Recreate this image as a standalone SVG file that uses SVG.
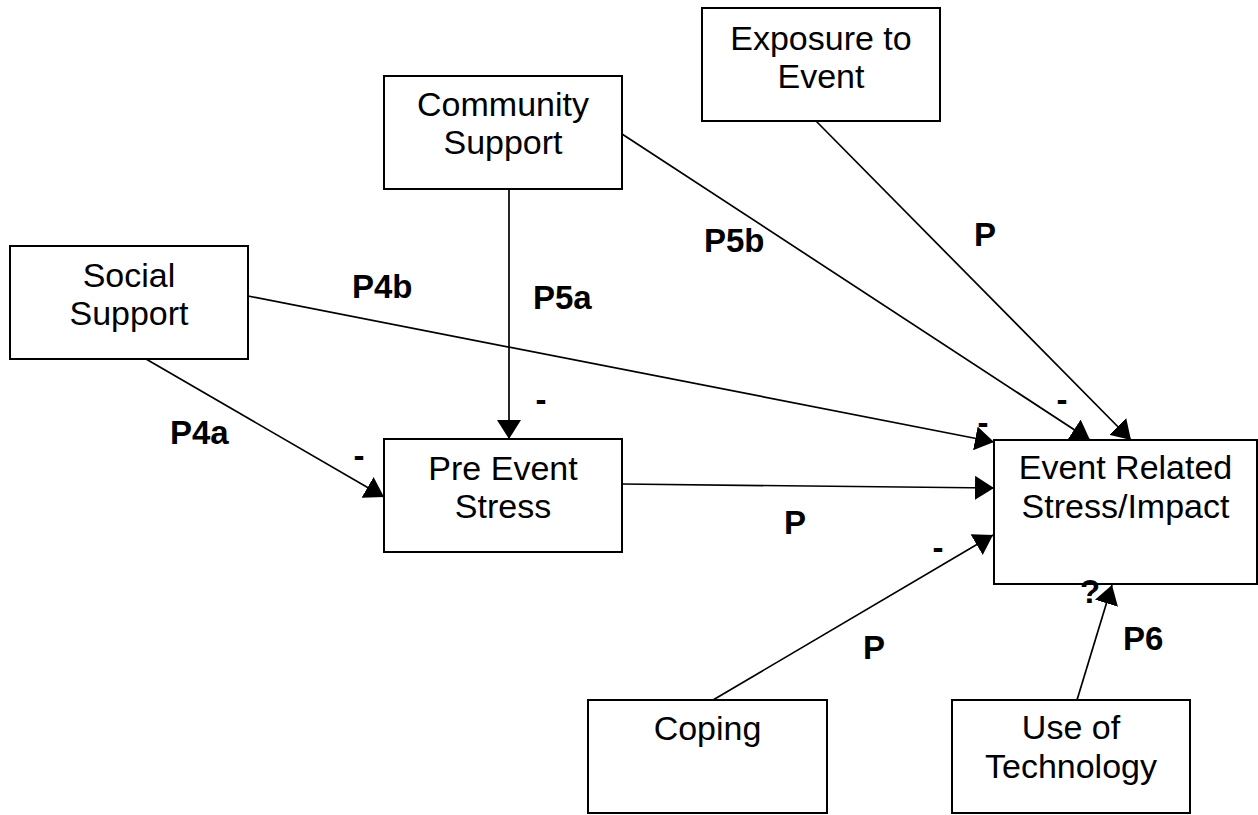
<svg xmlns="http://www.w3.org/2000/svg" width="1258" height="815" viewBox="0 0 1258 815">
  <style>
    .box { fill: #ffffff; stroke: #000000; stroke-width: 2; }
    .name { font-family: "Liberation Sans", Arial, sans-serif; font-size: 34px; fill: #000000; text-anchor: middle; }
    .lbl { font-family: "Liberation Sans", Arial, sans-serif; font-size: 33px; font-weight: bold; fill: #000000; }
    .mid { text-anchor: middle; }
    .edge { fill: none; stroke: #000000; stroke-width: 1.7; marker-end: url(#arrow); }
  </style>
  <defs>
    <marker id="arrow" markerUnits="userSpaceOnUse" viewBox="0 0 19 24" refX="19" refY="12" markerWidth="19" markerHeight="24" orient="auto">
      <path d="M0,0 L19,12 L0,24 Z" fill="#000000"/>
    </marker>
  </defs>
  <rect width="1258" height="815" fill="#ffffff"/>

  <g id="node-social-support">
    <rect class="box" x="10" y="246" width="238" height="113"/>
    <text class="name" x="129" y="287">Social</text>
    <text class="name" x="129" y="325">Support</text>
  </g>

  <g id="node-community-support">
    <rect class="box" x="384" y="76" width="238" height="113"/>
    <text class="name" x="503" y="116">Community</text>
    <text class="name" x="503" y="154">Support</text>
  </g>

  <g id="node-exposure">
    <rect class="box" x="702" y="8" width="238" height="113"/>
    <text class="name" x="821" y="50">Exposure to</text>
    <text class="name" x="821" y="88">Event</text>
  </g>

  <g id="node-pre-event-stress">
    <rect class="box" x="384" y="439" width="238" height="113"/>
    <text class="name" x="503" y="480">Pre Event</text>
    <text class="name" x="503" y="518">Stress</text>
  </g>

  <g id="node-event-related-stress">
    <rect class="box" x="994" y="440" width="263" height="144"/>
    <text class="name" x="1125.5" y="479">Event Related</text>
    <text class="name" x="1125.5" y="518">Stress/Impact</text>
  </g>

  <g id="node-coping">
    <rect class="box" x="588" y="700" width="239" height="113"/>
    <text class="name" x="707.5" y="740">Coping</text>
  </g>

  <g id="node-use-of-technology">
    <rect class="box" x="952" y="700" width="238" height="113"/>
    <text class="name" x="1071" y="739">Use of</text>
    <text class="name" x="1071" y="778">Technology</text>
  </g>

  <g id="connectors">
    <line class="edge" x1="146" y1="359" x2="384" y2="497"/>
    <line class="edge" x1="248" y1="296" x2="994" y2="442"/>
    <line class="edge" x1="509" y1="189" x2="509" y2="439"/>
    <line class="edge" x1="622" y1="134" x2="1090" y2="440"/>
    <line class="edge" x1="816" y1="121" x2="1131" y2="440"/>
    <line class="edge" x1="622" y1="484" x2="994" y2="488"/>
    <line class="edge" x1="713" y1="700" x2="993" y2="535"/>
    <line class="edge" x1="1077" y1="700" x2="1112" y2="585"/>
  </g>

  <g id="connector-labels">
    <text class="lbl" x="352" y="298">P4b</text>
    <text class="lbl" x="170" y="444">P4a</text>
    <text class="lbl" x="533" y="309">P5a</text>
    <text class="lbl" x="704" y="252">P5b</text>
    <text class="lbl" x="974" y="246">P</text>
    <text class="lbl" x="784" y="534">P</text>
    <text class="lbl" x="863" y="659">P</text>
    <text class="lbl" x="1123" y="650">P6</text>
    <text class="lbl mid" x="1090" y="603">?</text>
    <text class="lbl mid" x="359" y="467">-</text>
    <text class="lbl mid" x="541" y="411">-</text>
    <text class="lbl mid" x="1062" y="411">-</text>
    <text class="lbl mid" x="983" y="434">-</text>
    <text class="lbl mid" x="938" y="559">-</text>
  </g>
</svg>
